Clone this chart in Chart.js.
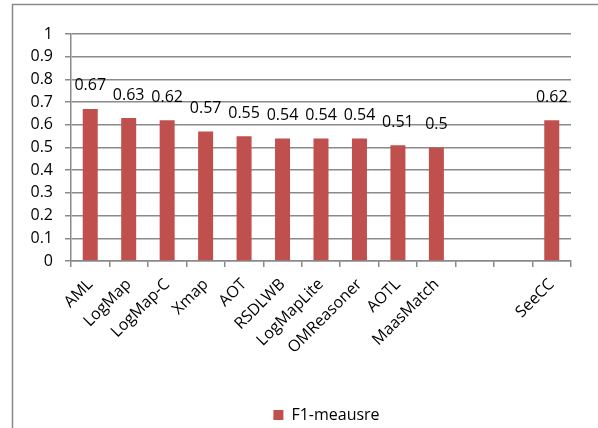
<!DOCTYPE html>
<html>
<head>
<meta charset="utf-8">
<script src="https://cdn.jsdelivr.net/npm/chart.js@4/dist/chart.umd.min.js"></script>
<style>
    html, body { margin: 0; padding: 0; background: #fff; }
    #wrap { width: 598px; height: 428px; }
</style>
</head>
<body>
<div id="wrap"><canvas id="f1Chart" width="598" height="428"></canvas></div>
<script>
// Systems on the x axis (two empty slots before SeeCC)
const systems = ['AML', 'LogMap', 'LogMap-C', 'Xmap', 'AOT', 'RSDLWB', 'LogMapLite',
    'OMReasoner', 'AOTL', 'MaasMatch', '', '', 'SeeCC'];
const f1Scores = [0.67, 0.63, 0.62, 0.57, 0.55, 0.54, 0.54, 0.54, 0.51, 0.5, null, null, 0.62];
const seriesName = 'F1-meausre';
const yTicks = [0, 0.1, 0.2, 0.3, 0.4, 0.5, 0.6, 0.7, 0.8, 0.9, 1];

const FONT = "'Open Sans', sans-serif";
const GRID = '#8a8a8a';
const BAR = '#c0504d';

/**
 * Draws the thin frame line on the left and top edges.
 */
const framePlugin = {
    id: 'frame',
    beforeDraw(chart) {
        const ctx = chart.ctx;
        ctx.save();
        ctx.strokeStyle = GRID;
        ctx.lineWidth = 1.5;
        ctx.beginPath();
        ctx.moveTo(12.5, chart.height);
        ctx.lineTo(12.5, 4.5);
        ctx.lineTo(chart.width, 4.5);
        ctx.stroke();
        ctx.restore();
    }
};

/**
 * Writes each bar's value above it.
 */
const valueLabels = {
    id: 'valueLabels',
    afterDatasetsDraw(chart) {
        const ctx = chart.ctx;
        const meta = chart.getDatasetMeta(0);
        ctx.save();
        ctx.font = '16px ' + FONT;
        ctx.fillStyle = '#000';
        ctx.textAlign = 'center';
        ctx.textBaseline = 'middle';
        meta.data.forEach((bar, i) => {
            const v = f1Scores[i];
            if (v === null) return;
            ctx.fillText(String(v), bar.x, bar.y - 23);
        });
        ctx.restore();
    }
};

// Move the legend right and down, under the middle of the bars
const legendShift = {
    id: 'legendShift',
    afterLayout(chart) {
        chart.legend.left += 31;
        chart.legend.right += 31;
        chart.legend.top += 5;
        chart.legend.bottom += 5;
    }
};

new Chart(document.getElementById('f1Chart'), {
    type: 'bar',
    data: {
        labels: systems,
        datasets: [{
            label: seriesName,
            data: f1Scores,
            backgroundColor: BAR,
            borderWidth: 0,
            categoryPercentage: 1,
            barPercentage: 0.39
        }]
    },
    options: {
        responsive: false,
        animation: false,
        devicePixelRatio: 1,
        layout: { padding: { left: 20, right: 27, top: 34, bottom: 0 } },
        plugins: {
            tooltip: { enabled: false },
            legend: {
                position: 'bottom',
                labels: {
                    font: { family: FONT, size: 16 },
                    color: '#000',
                    boxWidth: 10,
                    boxHeight: 10,
                    padding: 6
                }
            }
        },
        scales: {
            x: {
                grid: {
                    drawOnChartArea: false,
                    drawTicks: true,
                    tickLength: 6,
                    color: GRID,
                    lineWidth: 1.5
                },
                border: { color: GRID, width: 1.5 },
                ticks: {
                    font: { family: FONT, size: 16 },
                    color: '#000',
                    minRotation: 45,
                    maxRotation: 45,
                    autoSkip: false,
                    padding: 8
                },
                afterFit(scale) { scale.height = 135; }
            },
            y: {
                min: 0,
                max: 1,
                afterBuildTicks(scale) {
                    scale.ticks = yTicks.map(v => ({ value: v }));
                },
                grid: {
                    color: GRID,
                    lineWidth: 1.5,
                    drawTicks: true,
                    tickLength: 6
                },
                border: { color: GRID, width: 1.5 },
                ticks: {
                    font: { family: FONT, size: 16 },
                    color: '#000',
                    padding: 12,
                    callback: v => String(Math.round(v * 10) / 10)
                },
                afterFit(scale) { scale.width = 51; }
            }
        }
    },
    plugins: [framePlugin, valueLabels, legendShift]
});
</script>
</body>
</html>
